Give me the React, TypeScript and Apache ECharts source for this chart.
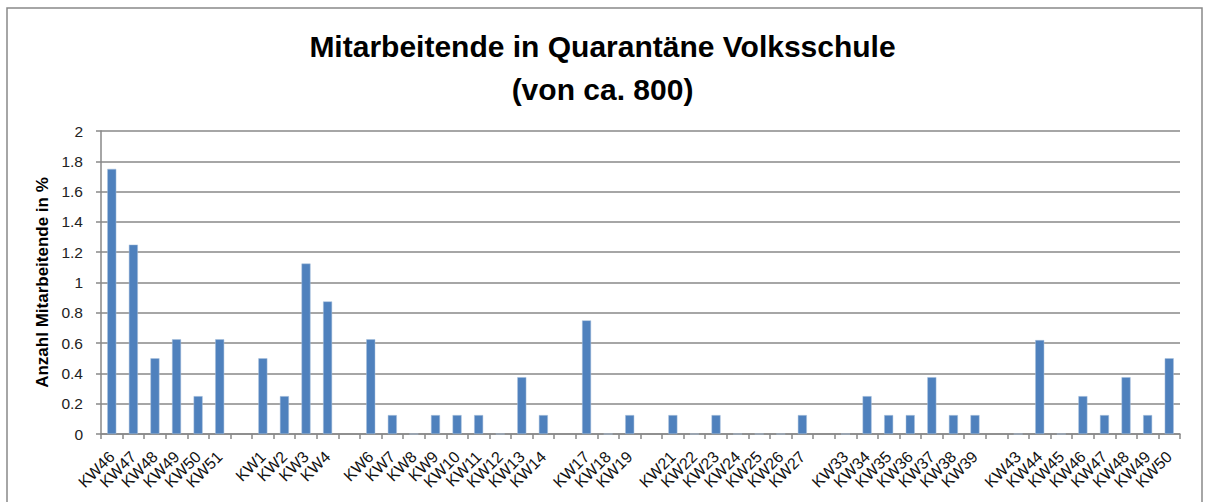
import React, { useEffect, useRef } from "react";
import * as echarts from "echarts";

const weeks: string[] = [
  "KW46", "KW47", "KW48", "KW49", "KW50", "KW51", "",
  "KW1", "KW2", "KW3", "KW4", "",
  "KW6", "KW7", "KW8", "KW9", "KW10", "KW11", "KW12", "KW13", "KW14", "",
  "KW17", "KW18", "KW19", "",
  "KW21", "KW22", "KW23", "KW24", "KW25", "KW26", "KW27", "",
  "KW33", "KW34", "KW35", "KW36", "KW37", "KW38", "KW39", "",
  "KW43", "KW44", "KW45", "KW46", "KW47", "KW48", "KW49", "KW50",
];

const percentValues: (number | null)[] = [
  1.75, 1.25, 0.5, 0.625, 0.25, 0.625, null,
  0.5, 0.25, 1.125, 0.875, null,
  0.625, 0.125, 0, 0.125, 0.125, 0.125, 0, 0.375, 0.125, null,
  0.75, 0, 0.125, null,
  0.125, 0, 0.125, 0, 0, 0, 0.125, null,
  0, 0.25, 0.125, 0.125, 0.375, 0.125, 0.125, null,
  0, 0.62, 0, 0.25, 0.125, 0.375, 0.125, 0.5,
];

const titleLines: string[] = ["Mitarbeitende in Quarantäne Volksschule", "(von ca. 800)"];
const yAxisName = "Anzahl Mitarbeitende in %";

export default function App() {
  const ref = useRef<HTMLDivElement>(null);
  useEffect(() => {
    if (!ref.current) return;
    const chart = echarts.init(ref.current, undefined, { renderer: "svg" });
    const font = "'Liberation Sans', Arial, sans-serif";
    chart.setOption({
      animation: false,
      backgroundColor: "#ffffff",
      textStyle: { fontFamily: font },
      title: {
        text: titleLines.join("\n"),
        left: "center",
        top: 25,
        padding: 0,
        textStyle: {
          fontFamily: font,
          fontSize: 30,
          fontWeight: "bold",
          lineHeight: 43,
          color: "#000000",
        },
      },
      graphic: [
        {
          type: "rect",
          shape: { x: 7, y: 8, width: 1195, height: 600 },
          style: { fill: "none", stroke: "#898989", lineWidth: 1.5 },
          silent: true,
          z: -1,
        },
      ],
      grid: { left: 101, right: 25, top: 131, bottom: 68 },
      xAxis: {
        type: "category",
        data: weeks,
        boundaryGap: true,
        axisLine: { show: true, lineStyle: { color: "#888888", width: 1.5 } },
        axisTick: { show: true, alignWithLabel: false, length: 5, lineStyle: { color: "#888888", width: 1.5 }, interval: 0 },
        axisLabel: {
          interval: 0,
          rotate: 45,
          margin: 20,
          fontSize: 16,
          color: "#111111",
          fontFamily: font,
        },
      },
      yAxis: {
        type: "value",
        min: 0,
        max: 2,
        interval: 0.2,
        name: yAxisName,
        nameLocation: "middle",
        nameGap: 48,
        nameTextStyle: { fontSize: 17, fontWeight: "bold", color: "#000000", fontFamily: font },
        axisLine: { show: true, lineStyle: { color: "#888888", width: 1.5 } },
        axisTick: { show: true, length: 5, lineStyle: { color: "#888888", width: 1.5 } },
        axisLabel: {
          margin: 18,
          fontSize: 15.5,
          color: "#222222",
          fontFamily: font,
          formatter: (v: number) => String(Math.round(v * 10) / 10),
        },
        splitLine: { show: true, lineStyle: { color: "#888888", width: 1.5 } },
      },
      series: [
        {
          type: "bar",
          data: percentValues,
          barWidth: 9,
          itemStyle: { color: "#4F81BD", borderColor: "#a9c0dd", borderWidth: 0.5 },
        },
      ],
    });
    return () => chart.dispose();
  }, []);
  return (
    <div
      ref={ref}
      style={{ position: "absolute", left: 0, top: 0, width: 1205, height: 502 }}
    />
  );
}
